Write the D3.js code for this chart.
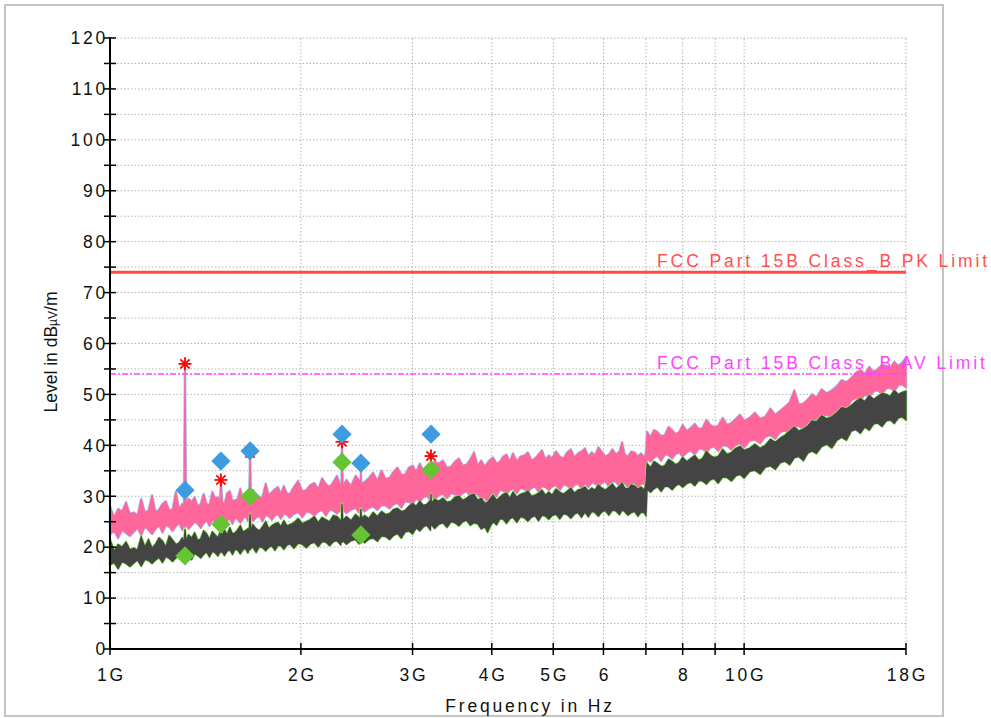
<!DOCTYPE html>
<html><head><meta charset="utf-8">
<script src="https://cdn.jsdelivr.net/npm/d3@7"></script>
<style>body{margin:0;background:#fff}svg{display:block}text{font-family:"Liberation Sans",Arial,sans-serif}</style>
</head><body>
<svg id="chart" width="991" height="718"></svg>
<script>
// ---- data (frequencies in GHz, levels in dBµV/m) ----
const freqs = [
 1.00,1.015,1.03,1.045,1.06,1.075,1.09,1.105,1.12,1.135,
 1.15,1.165,1.18,1.195,1.21,1.225,1.24,1.255,1.27,1.285,
 1.30,1.308,1.313,1.318,1.33,1.345,1.36,1.375,1.39,1.405,
 1.42,1.435,1.45,1.465,1.48,1.49,1.496,1.503,1.515,1.53,
 1.545,1.56,1.575,1.59,1.605,1.62,1.635,1.65,1.658,1.663,
 1.668,1.68,1.70,1.72,1.74,1.76,1.78,1.80,1.82,1.84,
 1.86,1.88,1.90,1.92,1.95,1.98,2.01,2.04,2.07,2.10,
 2.13,2.16,2.19,2.22,2.25,2.28,2.31,2.317,2.322,2.328,
 2.36,2.40,2.44,2.47,2.482,2.487,2.492,2.52,2.56,2.60,
 2.64,2.68,2.72,2.76,2.80,2.84,2.88,2.92,2.96,3.00,
 3.04,3.08,3.12,3.16,3.20,3.204,3.208,3.212,3.25,3.30,
 3.35,3.40,3.45,3.50,3.55,3.60,3.65,3.70,3.75,3.80,
 3.85,3.90,3.94,3.98,4.02,4.07,4.12,4.17,4.22,4.27,
 4.32,4.38,4.44,4.50,4.56,4.62,4.68,4.74,4.80,4.86,
 4.92,4.98,5.05,5.12,5.19,5.26,5.33,5.40,5.47,5.54,
 5.61,5.68,5.75,5.82,5.89,5.96,6.04,6.12,6.20,6.28,
 6.36,6.42,6.48,6.56,6.64,6.72,6.80,6.88,6.96,7.00,
 7.03,7.12,7.21,7.30,7.40,7.50,7.60,7.70,7.80,7.90,
 8.00,8.12,8.24,8.36,8.48,8.60,8.72,8.84,8.96,9.10,
 9.25,9.40,9.55,9.70,9.85,10.0,10.2,10.4,10.6,10.8,
 11.0,11.2,11.4,11.6,11.8,12.0,12.2,12.4,12.6,12.8,
 13.0,13.25,13.5,13.75,14.0,14.25,14.5,14.75,15.0,15.25,
 15.5,15.75,16.0,16.25,16.5,16.75,17.0,17.25,17.5,17.75,18.0];
const pkHi = [
 28,25.8,27.5,27,28.8,26.5,26.8,26.2,29.5,26.8,
 27.2,30.2,26.8,27.4,28.5,29,27.2,27.4,30.8,27.5,
 28.5,27.8,56,28.2,29.5,28.9,29.8,28,28.5,30.4,
 28.5,28.2,30.8,29.6,29.8,28.4,33.2,28.8,28.4,30.6,
 31,29,29.2,29.4,31.5,29.4,30.6,30.8,29.8,38.5,
 29.8,31.2,30.4,29.8,29.8,32.5,30.2,30.8,31.4,31.8,
 30.4,32,30.6,30.4,31.8,33,31,31.2,32.2,32.6,
 31.4,33.5,32.4,31.8,32.8,34,32,31.8,40.7,32,
 33.2,32,34,33.2,32.4,35,32.4,32.8,33.6,34.6,
 33,35,33.4,33.6,34.8,35.6,34.2,34.2,35.6,36,
 34.8,36.4,35,35.2,36.2,35.4,38,35.4,36.8,36.4,
 37,35.6,35.8,36.8,37.4,36,36.2,37.2,38.6,36,
 37,35.8,36.6,37.2,37.6,36.4,36.8,37.8,38.2,36.8,
 38.4,36.8,37.8,38,38.6,37,37.4,38.2,39,37.2,
 38,37.4,38.8,37.8,37.4,38.6,39.2,37.6,38.4,38.8,
 39.4,37.8,38.6,38,39.6,38.8,37.8,38.2,39.2,38.2,
 38.8,40.6,38.2,37.8,38.8,38.6,37.8,38.4,37.6,38.6,
 42.6,41.6,43,42.6,41.8,42,43.6,43,42.2,42.6,
 44,42.8,43.4,44.2,43.2,43.4,45,44,43.6,43.8,
 45.4,44,44.4,45.2,46,44.8,45.4,46.4,45.2,45.6,
 47.2,46,46.8,47.6,48.4,50.8,48,48.2,49,50,
 49.4,51,50.2,50.8,51.6,52.8,52.4,53.2,54.2,54.8,
 54,55.4,54.4,55,55.8,55.6,55.2,56.4,55.6,56.2,57.2];
const pkLo = [
 22.5,23.2,21.8,23.4,22.8,22.2,23,23.8,22.4,24,
 23.4,22.6,23.6,24.3,22.9,24.4,24,23.2,24.1,24.8,
 23.4,24.6,24,24.4,23.6,24.3,25,24.6,23.8,24.7,
 25.3,24.2,25.4,25,24.4,25.1,25,25.3,24.6,25.2,
 25.7,24.6,25.8,25.5,24.8,25.6,26.1,25.2,25.8,25.6,
 25.9,25.2,25.8,26.2,25.1,26.3,26.1,25.4,26.2,26.5,
 25.6,26.6,26.4,25.8,26.5,26.9,25.9,27,26.8,26.2,
 27,27.3,26.2,27.4,27.2,26.6,27.3,27.4,27.2,27.4,
 26.7,27.4,27.7,26.8,27.6,27.4,27.6,27,27.7,28,
 27.3,28.3,28.2,27.6,28.4,28.7,27.8,29,28.9,28.4,
 29.6,28.9,29.8,30.1,29.2,30.1,30,30.2,29.4,30.2,
 30.5,29.6,30.6,30.4,29.8,30.6,31,30,30.5,30.4,
 29.4,29.8,28.6,30,30.8,30,31.3,31.1,30.4,31.2,
 31.5,30.6,31.6,31.4,30.8,31.6,31.9,30.9,32,31.8,
 31.2,31.9,32.2,31.2,32.3,32.1,31.4,32.2,32.5,31.6,
 32.6,31.8,32.7,32.5,31.7,32.6,32.9,31.9,33,32.8,
 31.9,32.8,32.6,31.8,32.4,32.6,31.6,32.5,32.4,31.8,
 37.4,36.8,37.6,38,37,38.2,38.1,37.4,38.3,38.6,
 37.8,38.6,39,38.2,39.4,39.3,38.6,39.5,39.8,38.9,
 40,39.9,39.2,40.1,40.4,39.6,40.9,41.1,40.4,41.7,
 42,41.3,42.6,42.9,42.2,43.6,43.8,43.1,44.5,44.9,
 44.2,45.6,46,45.3,46.8,47.4,46.9,48.8,49.3,48.7,
 50,49.4,50.6,50.8,50,51.2,51.3,50.6,51.8,52,51.4];
const avHi = [
 21.5,19.2,20.5,20,21,19.5,19.8,19.4,22,20,
 21.5,19.8,20.6,21.8,21.2,20,22.2,21.4,20.5,20.8,
 21.8,20.8,23.5,21.2,22.4,21.8,22.8,21.3,21.6,23.2,
 22.6,21.5,23,22.4,21.8,22.8,23.5,22.2,23.4,22.4,
 23.8,22.6,22.8,23.4,24.2,23,23.2,23.6,23,26.5,
 23.2,24.4,23.6,23.2,24,25,23.6,24.2,24.6,24.8,
 24,25.2,24.2,24.4,24.8,25.6,24.6,25,25.4,26,
 24.8,25.8,25.4,25,26.2,26,25.2,25,28.5,25.2,
 26,25.2,26.4,25.8,25.6,27.5,25.6,26.2,25.6,26.8,
 26,27,26.4,26.6,27.4,27.6,27,27.2,28,28.6,
 28,29,28.2,28.4,29.2,28.6,30.5,28.6,29.4,29,
 29.6,28.8,29,29.8,30,29.2,29.6,30.2,30.4,29.2,
 29.6,28.6,28.8,29.6,30.2,29.2,29.8,30.4,30.6,29.6,
 30.8,29.8,30.4,30.6,31,30,30.2,30.6,31.2,30.2,
 30.8,30.2,31.4,30.8,30.4,31,31.6,30.6,31.2,31.4,
 31.8,31,31.6,31.2,32.2,31.6,31.2,31.8,32.4,31.4,
 32,32.6,31.6,31.4,32.2,32,31.4,31.8,31.2,32.4,
 36.4,35.6,36.8,36.4,35.8,36,37.2,36.8,36.2,36.6,
 37.6,36.8,37.4,38,37,37.4,38.8,38,37.6,37.8,
 39.2,38.2,38.6,39.4,39.8,39,39.4,40.2,39.4,40,
 41.2,40.6,41.4,42,42.8,43.6,42.8,43.2,43.8,44.8,
 44.6,45.8,45.2,45.6,46.4,47.4,47.2,47.8,48.6,49.2,
 48.6,49.8,49,49.6,50.2,50,49.6,50.8,50,50.4,50.6];
const avLo = [
 16.5,17,15.8,17.2,16.8,16.2,16.9,17.5,16.3,17.6,
 17.4,16.8,17.5,18,17,18.2,17.8,17.2,17.9,18.4,
 18.2,17.6,17.5,18.1,18.6,17.6,18.8,18.4,17.9,18.6,
 19.1,18.1,19.2,18.9,18.3,19,19,19.1,18.4,19.2,
 19.5,18.6,19.6,19.4,18.7,19.5,19.8,18.9,19.7,19.5,
 19.8,20,19,20.1,19.9,19.3,20,20.3,19.4,20.4,
 20.3,19.6,20.4,20.7,19.8,20.8,20.6,19.9,20.7,21,
 20.1,21.1,21,20.3,21.1,21.3,20.5,21.2,21,21.3,
 20.6,21.3,21.5,20.7,21.5,21.3,21.5,20.9,21.6,21.8,
 21.2,22.2,22.1,21.5,22.3,22.7,21.8,23,23.2,22.6,
 23.8,23.2,24,24.3,23.4,24.4,24.3,24.5,23.7,24.5,
 24.8,23.9,25,24.8,24.2,25,25.3,24.3,24.8,24.6,
 23.6,24,23,24.2,25,24.4,25.6,25.5,24.7,25.6,
 25.9,24.9,26,25.8,25.1,25.9,26.2,25.2,26.3,26.1,
 25.5,26.2,26.5,25.6,26.6,26.4,25.7,26.5,26.8,25.9,
 26.9,26,27,26.8,26.1,26.9,27.2,26.3,27.3,27.1,
 26.4,27.3,27,26.3,26.8,27,26.1,26.9,26.8,26.2,
 31.4,30.8,31.5,31.9,31,32,31.9,31.3,32.1,32.4,
 31.8,32.5,32.8,32.1,33.1,33,32.4,33.2,33.5,32.6,
 33.8,33.7,33,34,34.3,33.6,34.9,35.1,34.4,35.7,
 36,35.3,36.6,36.9,36.2,37.6,37.8,37,38.5,38.9,
 38.4,39.8,40.2,39.5,41,41.6,41,42.8,43.1,42.4,
 43.6,43,44.2,44.4,43.7,44.8,45,44.3,45.4,45.6,45];

// final measurement markers
const markFreqs = [1.313,1.496,1.663,2.322,2.487,3.208];
const pkMarks   = [31.2,36.9,38.9,42.2,36.5,42.2];
const avMarks   = [18.3,24.5,30.0,36.7,22.4,35.2];
const starFreqs = [1.313,1.496,1.663,2.322,3.208];
const starVals  = [56.0,33.2,38.5,40.7,37.9];

// limits
const limitNames = ["FCC Part 15B Class_B PK Limit","FCC Part 15B Class_B AV Limit"];
const limitVals  = [74,54];

// axes ticks
const xTickVals   = [1,2,3,4,5,6,7,8,9,10,18];
const xTickLabels = ["1G","2G","3G","4G","5G","6","","8","","10G","18G"];
const yTickVals   = [0,10,20,30,40,50,60,70,80,90,100,110,120];
const yMinorVals  = [5,15,25,35,45,55,65,75,85,95,105,115];

// ---- drawing ----
const svg = d3.select("#chart");
const x = d3.scaleLog().domain([1,18]).range([110,906]);
const y = d3.scaleLinear().domain([0,120]).range([649,38]);

svg.append("rect").attr("x",5).attr("y",5).attr("width",938).attr("height",711)
  .attr("fill","#fff").attr("stroke","#c4c4c4").attr("stroke-width",2);

// grid
const grid = svg.append("g").attr("stroke","#b4b4b4").attr("stroke-width",1).attr("stroke-dasharray","1.5,2");
grid.selectAll("line.h").data(yTickVals.concat(yMinorVals).filter(v=>v>0)).join("line")
  .attr("x1",x(1)).attr("x2",x(18)).attr("y1",d=>y(d)).attr("y2",d=>y(d));
grid.selectAll("line.v").data(xTickVals.filter(v=>v>1)).join("line")
  .attr("y1",y(0)).attr("y2",y(120)).attr("x1",d=>x(d)).attr("x2",d=>x(d));

// traces
const idx = d3.range(freqs.length);
const pkArea = d3.area().x(i=>x(freqs[i])).y0(i=>y(pkLo[i])).y1(i=>y(pkHi[i]));
const avArea = d3.area().x(i=>x(freqs[i])).y0(i=>y(avLo[i])).y1(i=>y(avHi[i]));
svg.append("path").attr("d",pkArea(idx)).attr("fill","#99ccff").attr("stroke","#99ccff").attr("stroke-width",2.6).attr("stroke-linejoin","round");
svg.append("path").attr("d",pkArea(idx)).attr("fill","#ff6699").attr("stroke","#ff6699").attr("stroke-width",1.2);
svg.append("path").attr("d",avArea(idx)).attr("fill","#88ee55").attr("stroke","#88ee55").attr("stroke-width",2.6).attr("stroke-linejoin","round");
svg.append("path").attr("d",avArea(idx)).attr("fill","#444444").attr("stroke","#444444").attr("stroke-width",1.2);

// limit lines
svg.append("line").attr("x1",x(1)).attr("x2",x(18)).attr("y1",y(limitVals[0])).attr("y2",y(limitVals[0]))
  .attr("stroke","#ff4848").attr("stroke-width",3);
svg.append("line").attr("x1",x(1)).attr("x2",x(18)).attr("y1",y(limitVals[1])).attr("y2",y(limitVals[1]))
  .attr("stroke","#ff44ff").attr("stroke-width",1.5).attr("stroke-dasharray","6,2,2,2");
const limColors = ["#ff5050","#ff44ff"];
limitNames.forEach((n,i)=>{
  svg.append("text").attr("x",657).attr("y",y(limitVals[i])-5).text(n)
    .attr("fill",limColors[i]).attr("font-size",17.5).attr("letter-spacing",2.9);
});

// markers
const star = svg.append("g").attr("stroke","#ff0000").attr("stroke-width",1.8);
starFreqs.forEach((f,i)=>{
  const cx=x(f), cy=y(starVals[i]), r=6.5;
  [0,45,90,135].forEach(a=>{
    const dx=r*Math.cos(a*Math.PI/180), dy=r*Math.sin(a*Math.PI/180);
    star.append("line").attr("x1",cx-dx).attr("x2",cx+dx).attr("y1",cy-dy).attr("y2",cy+dy);
  });
});
const diamond = d3.symbol(d3.symbolSquare, 185);
svg.append("g").selectAll("path").data(markFreqs).join("path")
  .attr("d",diamond).attr("fill","#3d9be0")
  .attr("transform",(d,i)=>`translate(${x(d)},${y(pkMarks[i])}) rotate(45)`);
svg.append("g").selectAll("path").data(markFreqs).join("path")
  .attr("d",diamond).attr("fill","#66c433")
  .attr("transform",(d,i)=>`translate(${x(d)},${y(avMarks[i])}) rotate(45)`);

// axes
const ax = svg.append("g").attr("stroke","#000");
ax.append("line").attr("x1",x(1)).attr("x2",x(1)).attr("y1",y(120)-1).attr("y2",y(0)+1).attr("stroke-width",2);
ax.append("line").attr("x1",x(1)-1).attr("x2",x(18)).attr("y1",y(0)).attr("y2",y(0)).attr("stroke-width",2);
ax.selectAll("line.yt").data(yTickVals.concat(yMinorVals)).join("line")
  .attr("x1",x(1)-6).attr("x2",x(1)+6).attr("y1",d=>y(d)).attr("y2",d=>y(d)).attr("stroke-width",1.5);
ax.selectAll("line.xt").data(xTickVals).join("line")
  .attr("y1",y(0)-6).attr("y2",y(0)+6).attr("x1",d=>x(d)).attr("x2",d=>x(d)).attr("stroke-width",1.5);

svg.append("g").selectAll("text").data(yTickVals).join("text")
  .attr("x",x(1)-2).attr("y",d=>y(d)).attr("dy","0.36em").attr("text-anchor","end")
  .attr("font-size",17.5).attr("letter-spacing",2.8).attr("fill","#111").text(d=>d);
svg.append("g").selectAll("text").data(xTickVals).join("text")
  .attr("x",d=>x(d)+1.5).attr("y",681).attr("text-anchor","middle")
  .attr("font-size",17.5).attr("letter-spacing",2.8).attr("fill","#111").text((d,i)=>xTickLabels[i]);

svg.append("text").attr("x",530).attr("y",712).attr("text-anchor","middle")
  .attr("font-size",17.5).attr("letter-spacing",2.8).attr("fill","#111").text("Frequency in Hz");
const yl = svg.append("text").attr("transform","translate(57,352) rotate(-90)").attr("text-anchor","middle")
  .attr("font-size",17.5).attr("fill","#111");
yl.append("tspan").text("Level in dB");
yl.append("tspan").attr("font-size",12).text("µV");
yl.append("tspan").text("/m");
</script>
</body></html>
